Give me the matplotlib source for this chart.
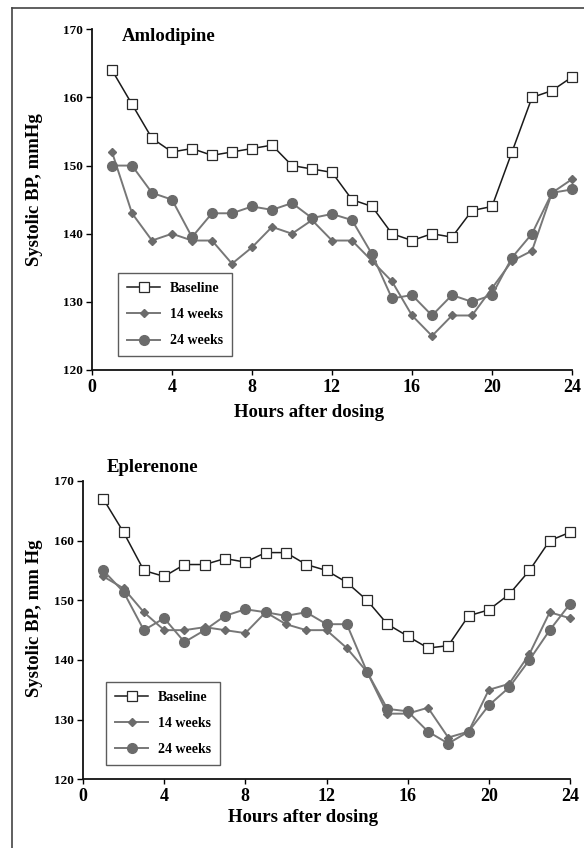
import matplotlib
matplotlib.use("Agg")
import matplotlib.pyplot as plt
from matplotlib.lines import Line2D

plt.rcParams['font.family'] = ['Liberation Serif', 'DejaVu Serif']
plt.rcParams['font.weight'] = 'bold'

hours = list(range(1, 25))

aml_baseline = [164, 159, 154, 152, 152.5, 151.5, 152, 152.5, 153, 150, 149.5, 149,
                145, 144, 140, 139, 140, 139.5, 143.4, 144, 152, 160, 161, 163]
aml_14w = [152, 143, 139, 140, 139, 139, 135.6, 138, 141, 140, 142, 139,
           139, 136, 133, 128, 125, 128, 128, 132, 136, 137.5, 146, 148]
aml_24w = [150, 150, 146, 145, 139.5, 143, 143, 144, 143.5, 144.5, 142.3, 142.9,
           142, 137, 130.5, 131, 128, 131, 130, 131, 136.5, 140, 146, 146.5]

epl_baseline = [167, 161.4, 155, 154, 156, 156, 157, 156.4, 158, 158, 156, 155,
                153, 150, 146, 144, 142, 142.4, 147.4, 148.4, 151, 155, 160, 161.4]
epl_14w = [154, 152, 148, 145, 145, 145.5, 145, 144.5, 148, 146, 145, 145,
           142, 138, 131, 131, 132, 127, 128, 135, 136, 141, 148, 147]
epl_24w = [155, 151.4, 145, 147, 143, 145, 147.4, 148.5, 148, 147.4, 148, 146,
           146, 138, 131.8, 131.4, 128, 126, 128, 132.4, 135.4, 140, 145, 149.4]

series_labels = ['Baseline', '14 weeks', '24 weeks']
x_ticks = [0, 4, 8, 12, 16, 20, 24]
y_ticks = [120, 130, 140, 150, 160, 170]

W, H = 584, 848
fig = plt.figure(figsize=(W / 100, H / 100), dpi=100)

def px_axes(l, r, t, b):
    return fig.add_axes([l / W, (H - b) / H, (r - l) / W, (b - t) / H])

GRAY = '#6b6b6b'
GRAYL = '#777777'

def draw(ax, base, w14, w24, title, ylabel, title_xy, ylabel_xy, leg_xy):
    ax.plot(hours, base, color='#1a1a1a', lw=1.1, marker='s', ms=6.5,
            mfc='white', mec='#2a2a2a', mew=0.9, label=series_labels[0],
            clip_on=False, zorder=4)
    ax.plot(hours, w14, color=GRAYL, lw=1.4, marker='D', ms=4.0,
            mfc=GRAY, mec=GRAY, label=series_labels[1], clip_on=False, zorder=3)
    ax.plot(hours, w24, color=GRAYL, lw=1.4, marker='o', ms=7.0,
            mfc=GRAY, mec=GRAY, label=series_labels[2], clip_on=False, zorder=3)
    ax.set_xlim(0, 24)
    ax.set_ylim(120, 170)
    ax.set_xticks(x_ticks)
    ax.set_yticks(y_ticks)
    for s in ['top', 'right']:
        ax.spines[s].set_visible(False)
    for s in ['left', 'bottom']:
        ax.spines[s].set_linewidth(1.3)
        ax.spines[s].set_color('#111111')
    ax.tick_params(axis='y', direction='out', length=4, width=1.0, pad=2.5,
                   labelsize=9.5)
    ax.tick_params(axis='x', direction='out', length=3.5, width=1.0, pad=3,
                   labelsize=13)
    for lab in ax.get_xticklabels() + ax.get_yticklabels():
        lab.set_fontweight('bold')
    ax.set_xlabel('Hours after dosing', fontsize=13.5, fontweight='bold')
    ax.xaxis.set_label_coords(0.452, -0.1, transform=ax.transAxes)
    fig.text(title_xy[0] / W, (H - title_xy[1]) / H, title, fontsize=13.5,
             fontweight='bold', ha='left', va='baseline')
    fig.text(ylabel_xy[0] / W, (H - ylabel_xy[1]) / H, ylabel, fontsize=13.5,
             fontweight='bold', rotation=90, ha='center', va='center')
    leg = ax.legend(loc='upper left', bbox_to_anchor=(leg_xy[0] / W, (H - leg_xy[1]) / H),
                    bbox_transform=fig.transFigure, borderaxespad=0,
                    prop={'family': 'Liberation Serif', 'weight': 'bold', 'size': 10},
                    frameon=True, fancybox=False, edgecolor='#333333',
                    handlelength=2.4, handletextpad=0.7, labelspacing=0.95,
                    borderpad=0.65)
    leg.get_frame().set_linewidth(1.0)

ax1 = px_axes(92, 572, 29.3, 370)
draw(ax1, aml_baseline, aml_14w, aml_24w, 'Amlodipine', 'Systolic BP, mmHg',
     (122, 41), (35, 190), (118, 273))

ax2 = px_axes(83, 570, 481, 779.3)
draw(ax2, epl_baseline, epl_14w, epl_24w, 'Eplerenone', 'Systolic BP, mm Hg',
     (107, 472.3), (35, 618), (106, 681.7))

# outer frame (top and left edges)
fig.add_artist(Line2D([12 / W, 1.0], [(H - 7.5) / H, (H - 7.5) / H],
                      transform=fig.transFigure, color='#444444', lw=1.2))
fig.add_artist(Line2D([12 / W, 12 / W], [0.0, (H - 7.5) / H],
                      transform=fig.transFigure, color='#444444', lw=1.2))

fig.savefig('out.png', dpi=100)
